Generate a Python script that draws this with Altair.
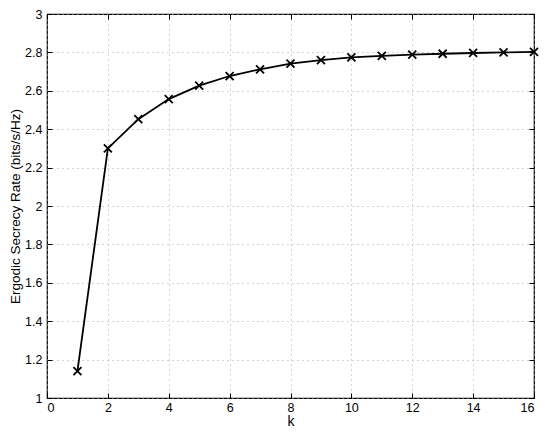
import altair as alt
import pandas as pd

k_values = list(range(1, 17))
rate_values = [1.14, 2.30, 2.452, 2.557, 2.627, 2.677, 2.712, 2.741, 2.760, 2.774,
               2.782, 2.788, 2.793, 2.797, 2.800, 2.803]
x_ticks = list(range(0, 17, 2))
y_ticks = [1.0, 1.2, 1.4, 1.6, 1.8, 2.0, 2.2, 2.4, 2.6, 2.8, 3.0]

df = pd.DataFrame({"k": k_values, "rate": rate_values})

label_font = "'Liberation Sans Narrow', 'Liberation Sans', sans-serif"
title_font = "Liberation Sans"

common = dict(grid=True, gridDash=[1, 4], gridColor="#a6a6a6", gridOpacity=1,
              tickSize=5, offset=-5, tickColor="black", tickWidth=1,
              domain=False, labelOverlap=False,
              labelFont=label_font, titleFont=title_font, labelFontSize=12.5,
              titleFontWeight="normal", labelColor="black", titleColor="black")

inner = dict(grid=False, tickSize=5, offset=-5, tickColor="black", tickWidth=1,
             domain=False, labels=False, title=None, titlePadding=0)

scale_x = alt.Scale(domain=[0, 16], nice=False)
scale_y = alt.Scale(domain=[1, 3], nice=False, zero=False)

x_main = alt.X("k:Q", scale=scale_x,
               axis=alt.Axis(values=x_ticks, format="d", title="k", orient="bottom",
                             labelPadding=3, titlePadding=1, titleFontSize=14,
                             **common))
y_main = alt.Y("rate:Q", scale=scale_y,
               axis=alt.Axis(values=y_ticks, format=".1~f", orient="left",
                             title="Ergodic Secrecy Rate (bits/s/Hz)",
                             labelPadding=5, titlePadding=2, titleFontSize=13.5,
                             **common))
x_top = alt.X("k:Q", scale=scale_x, axis=alt.Axis(values=x_ticks, orient="top", **inner))
y_right = alt.Y("rate:Q", scale=scale_y, axis=alt.Axis(values=y_ticks, orient="right", **inner))

line = alt.Chart(df).mark_line(color="black", strokeWidth=1.8).encode(x=x_main, y=y_main)
pts = alt.Chart(df).mark_point(shape="M-1,-1L1,1M-1,1L1,-1", size=64, color="black",
                               strokeWidth=1.8, filled=False, opacity=1).encode(x=x_top, y=y_right)

chart = alt.layer(line, pts).resolve_axis(x="independent", y="independent").properties(
    width=538, height=421,
    autosize=alt.AutoSizeParams(type="fit", contains="padding"),
    padding={"left": 0, "top": 0, "right": 4, "bottom": 0},
    background="white",
).configure_view(
    stroke="black", strokeWidth=1.2
)

chart.save("out.html", embed_options={"renderer": "svg", "actions": False})
